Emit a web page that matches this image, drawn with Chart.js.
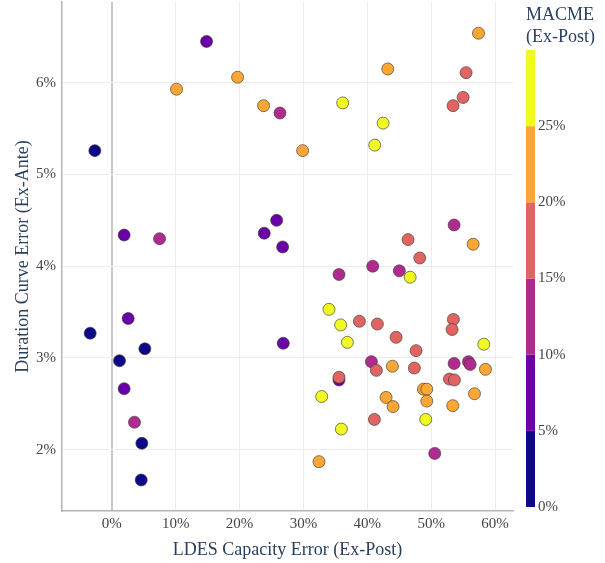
<!DOCTYPE html>
<html>
<head>
<meta charset="utf-8">
<script src="https://cdn.jsdelivr.net/npm/chart.js@4.4.1/dist/chart.umd.min.js"></script>
<style>
    html, body { margin: 0; padding: 0; background: #fff; }
    #wrap { width: 605px; height: 563px; }
</style>
</head>
<body>
<div id="wrap"><canvas id="chart"></canvas></div>
<script>
// LDES capacity error (ex-post), %
const ldesErr = [
    -2.66, 14.83, 10.13, 19.69, 23.76, 26.32, 29.87, 1.93, 7.47, 23.86,
    25.8, 26.74, 57.4, 43.19, 55.46, 54.99, 53.42, 36.14, 42.46, 41.15,
    53.58, 46.37, 56.56, 48.2, 40.84, 45.01, 46.7, 35.56, 2.56, -3.39,
    5.17, 1.2, 1.93, 3.55, 4.7, 4.6, 26.84, 33.99, 35.82, 36.87,
    38.75, 41.57, 44.5, 47.63, 53.47, 53.26, 58.23, 40.63, 41.41, 43.92,
    47.36, 53.58, 55.82, 56.09, 58.49, 35.56, 35.56, 52.85, 53.63, 48.78,
    49.3, 56.77, 32.85, 42.93, 49.3, 44.02, 53.37, 41.1, 49.14, 35.93,
    50.55, 32.43
];
// duration curve error (ex-ante), %
const durErr = [
    5.26, 6.45, 5.93, 6.06, 5.75, 5.67, 5.26, 4.34, 4.30, 4.36,
    4.50, 4.21, 6.54, 6.15, 6.11, 5.84, 5.75, 5.78, 5.56, 5.32,
    4.45, 4.29, 4.24, 4.09, 4.00, 3.95, 3.88, 3.91, 3.43, 3.27,
    3.10, 2.97, 2.665, 2.30, 2.07, 1.67, 3.16, 3.53, 3.36, 3.17,
    3.40, 3.37, 3.225, 3.08, 3.42, 3.31, 3.15, 2.96, 2.865, 2.91,
    2.89, 2.94, 2.96, 2.93, 2.876, 2.76, 2.79, 2.77, 2.76, 2.66,
    2.66, 2.61, 2.58, 2.57, 2.53, 2.47, 2.48, 2.33, 2.33, 2.225,
    1.96, 1.87
];
// MACME (ex-post), %
const macme = [
    2.4, 7.8, 22.3, 21.5, 23.1, 13.2, 22.0, 8.1, 11.9, 7.2,
    6.9, 8.4, 22.7, 21.8, 17.4, 16.8, 18.1, 26.5, 27.2, 25.9,
    12.6, 17.9, 21.2, 16.3, 13.7, 12.2, 26.1, 11.4, 6.3, 1.8,
    3.2, 2.7, 5.9, 10.8, 3.6, 4.1, 7.5, 27.8, 26.7, 25.6,
    17.1, 18.4, 16.6, 17.7, 18.8, 16.9, 25.4, 13.4, 17.3, 21.6,
    18.2, 12.9, 10.4, 13.8, 22.5, 9.6, 15.7, 16.2, 17.6, 20.9,
    21.4, 22.8, 26.3, 23.4, 20.6, 21.9, 22.1, 16.4, 27.5, 26.0,
    11.3, 23.7
];

const xTicks = [0, 10, 20, 30, 40, 50, 60];
const yTicks = [2, 3, 4, 5, 6];
const cbTicks = [0, 5, 10, 15, 20, 25];
const cbEdges = [0, 5, 10, 15, 20, 25, 30];
const cbColors = ['#0d0887', '#6a00a8', '#b12a90', '#e16462', '#fca636', '#f0f921'];

const SERIF = '"Liberation Serif", "DejaVu Serif", serif';
const TEXT = '#2a3f5f';

const colorFor = v => {
    for (let i = 0; i < cbColors.length; i++) {
        if (v < cbEdges[i + 1]) return cbColors[i];
    }
    return cbColors[cbColors.length - 1];
};

// discrete colorbar on the right
const colorbar = {
    id: 'colorbar',
    afterDraw(chart) {
        const c = chart.ctx;
        const x0 = 526, w = 9, top = 50, bottom = 507;
        const lo = cbEdges[0], hi = cbEdges[cbEdges.length - 1];
        const yOf = v => bottom - (v - lo) / (hi - lo) * (bottom - top);
        c.save();
        for (let i = 0; i < cbColors.length; i++) {
            const y1 = yOf(cbEdges[i + 1]), y2 = yOf(cbEdges[i]);
            c.fillStyle = cbColors[i];
            c.fillRect(x0, y1, w, y2 - y1);
        }
        c.fillStyle = '#444';
        c.font = '15px ' + SERIF;
        c.textAlign = 'left';
        c.textBaseline = 'middle';
        cbTicks.forEach(t => c.fillText(t + '%', x0 + w + 3, yOf(t)));
        c.fillStyle = TEXT;
        c.font = '18px ' + SERIF;
        c.fillText('MACME', x0, 15);
        c.fillText('(Ex-Post)', x0, 37);
        c.restore();
    }
};

const noPad = s => {
    s.paddingTop = 0;
    s.paddingBottom = 0;
    s.paddingLeft = 0;
    s.paddingRight = 0;
};

const points = ldesErr.map((x, i) => ({ x: x, y: durErr[i] }));

new Chart(document.getElementById('chart'), {
    type: 'scatter',
    data: {
        datasets: [{
            data: points,
            pointRadius: 6,
            pointHoverRadius: 6,
            pointBackgroundColor: macme.map(colorFor),
            pointBorderColor: 'rgba(60,60,50,0.65)',
            pointBorderWidth: 1
        }]
    },
    options: {
        responsive: true,
        maintainAspectRatio: false,
        animation: false,
        layout: { autoPadding: false, padding: { top: 2, right: 92, left: 0, bottom: 0 } },
        plugins: {
            legend: { display: false },
            tooltip: { enabled: false }
        },
        scales: {
            x: {
                type: 'linear',
                min: -7.8,
                max: 62.8,
                afterBuildTicks: s => { s.ticks = xTicks.map(v => ({ value: v })); },
                afterFit: s => { s.height = 52; noPad(s); },
                ticks: {
                    callback: v => v + '%',
                    font: { family: SERIF, size: 15 },
                    color: '#444',
                    padding: 4,
                    maxRotation: 0
                },
                grid: {
                    drawTicks: false,
                    color: ctx => ctx.tick && ctx.tick.value === 0 ? '#c8c8c8' : '#ececec',
                    lineWidth: ctx => ctx.tick && ctx.tick.value === 0 ? 2 : 1
                },
                border: { color: '#b4b4b4', width: 1.5 },
                title: {
                    display: true,
                    text: 'LDES Capacity Error (Ex-Post)',
                    font: { family: SERIF, size: 18 },
                    color: TEXT,
                    padding: { top: 0, bottom: 2 }
                }
            },
            y: {
                type: 'linear',
                min: 1.332,
                max: 6.88,
                afterBuildTicks: s => { s.ticks = yTicks.map(v => ({ value: v })); },
                afterFit: s => { s.width = 62; noPad(s); },
                ticks: {
                    callback: v => v + '%',
                    font: { family: SERIF, size: 15 },
                    color: '#444',
                    padding: 6
                },
                grid: {
                    drawTicks: false,
                    color: '#ececec'
                },
                border: { color: '#b4b4b4', width: 1.5 },
                title: {
                    display: true,
                    text: 'Duration Curve Error (Ex-Ante)',
                    font: { family: SERIF, size: 18 },
                    color: TEXT,
                    padding: { top: 12, bottom: 0 }
                }
            }
        }
    },
    plugins: [colorbar]
});
</script>
</body>
</html>
